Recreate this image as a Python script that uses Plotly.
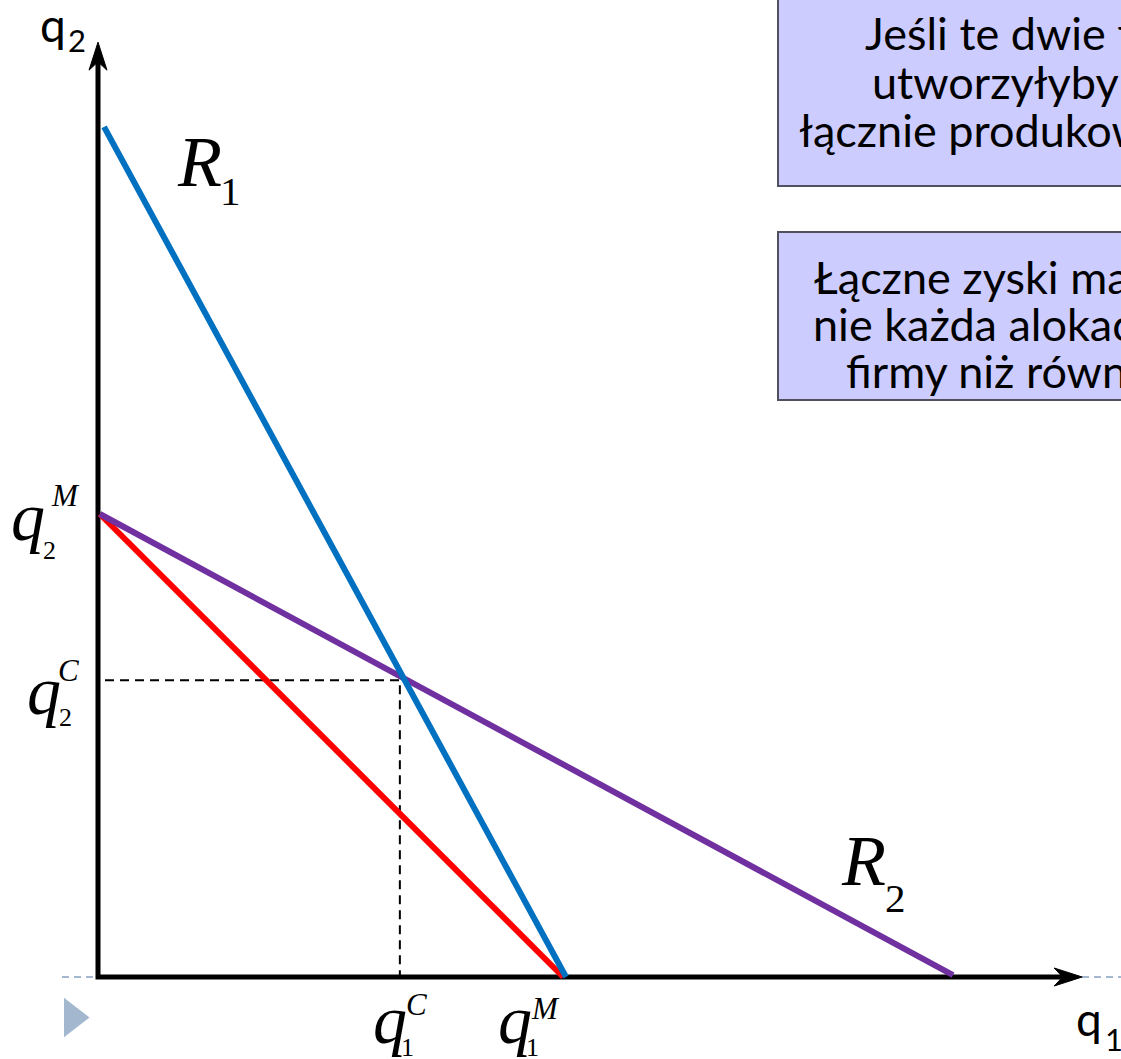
import plotly.graph_objects as go

# ---------------- data (economic units) ----------------
q1_monopoly = 10.0
q2_monopoly = 10.0
q1_cournot = 6.45
q2_cournot = 6.41
R1_q1 = [0.13, 10.0]
R1_q2 = [18.36, 0.0]
R2_q1 = [0.04, 18.27]
R2_q2 = [10.0, 0.04]
joint_q1 = [0.04, 9.94]
joint_q2 = [10.0, 0.0]
axis_q1_end = 21.03
axis_q2_end = 20.19

box1_lines = ["Jeśli te dwie firmy", "utworzyłyby kartel,", "łącznie produkowałyby"]
box2_lines = ["Łączne zyski maksymalne,", "nie każda alokacja daje", "firmy niż równowaga"]

# ---------------- canvas mapping ----------------
W, H = 1121, 1059
OX, OY = 98, 977          # pixel position of the origin
SX, SY = 46.8, 46.3       # pixels per unit
xr = [-OX / SX, (W - OX) / SX]
yr = [-(H - OY) / SY, OY / SY]


def dx(px):
    return px / SX


def dy(px):
    return px / SY


fig = go.Figure()

# light slide baseline (dashed)
fig.add_trace(go.Scatter(x=[dx(62 - OX), xr[1]], y=[0, 0], mode="lines",
                         line=dict(color="#a3b8cf", width=2, dash="7px,5px"),
                         hoverinfo="skip"))

# Cournot dashed guides
fig.add_trace(go.Scatter(x=[dx(7), q1_cournot, q1_cournot], y=[q2_cournot, q2_cournot, 0],
                         mode="lines", line=dict(color="black", width=2, dash="9px,6px"),
                         hoverinfo="skip"))

# axes
L_ar, W_ar = 28, 9
fig.add_trace(go.Scatter(x=[0, 0, axis_q1_end - dx(L_ar * 0.7)],
                         y=[axis_q2_end - dy(L_ar * 0.7), 0, 0],
                         mode="lines", line=dict(color="black", width=5),
                         hoverinfo="skip"))
# arrowheads
fig.add_trace(go.Scatter(
    x=[axis_q1_end, axis_q1_end - dx(L_ar), axis_q1_end - dx(L_ar * 0.7), axis_q1_end - dx(L_ar), axis_q1_end],
    y=[0, dy(W_ar), 0, -dy(W_ar), 0],
    mode="lines", fill="toself", fillcolor="black", line=dict(color="black", width=1),
    hoverinfo="skip"))
fig.add_trace(go.Scatter(
    x=[0, dx(W_ar), 0, -dx(W_ar), 0],
    y=[axis_q2_end, axis_q2_end - dy(L_ar), axis_q2_end - dy(L_ar * 0.7), axis_q2_end - dy(L_ar), axis_q2_end],
    mode="lines", fill="toself", fillcolor="black", line=dict(color="black", width=1),
    hoverinfo="skip"))

# curves
fig.add_trace(go.Scatter(x=joint_q1, y=joint_q2, mode="lines",
                         line=dict(color="#ff0000", width=6), hoverinfo="skip"))
fig.add_trace(go.Scatter(x=R2_q1, y=R2_q2, mode="lines",
                         line=dict(color="#7030a0", width=6), hoverinfo="skip"))
fig.add_trace(go.Scatter(x=R1_q1, y=R1_q2, mode="lines",
                         line=dict(color="#0070c0", width=6), hoverinfo="skip"))

# slide bullet
fig.add_trace(go.Scatter(x=[dx(72.5 - OX)], y=[-dy(1017.5 - OY)], mode="markers",
                         marker=dict(symbol="triangle-right", size=34, color="#a3b8cf",
                                     line=dict(width=0)),
                         hoverinfo="skip"))

annotations = []
SERIF = "Liberation Serif"
SANS = "Lato"


def label(text, left, baseline, size, family, italic=False):
    off = 0.3375 if family == SERIF else 0.387
    annotations.append(dict(
        x=left / W, y=1 - (baseline - off * size) / H, xref="paper", yref="paper",
        xanchor="left", yanchor="middle", showarrow=False, borderpad=0,
        text=f"<i>{text}</i>" if italic else text,
        font=dict(family=family, size=size, color="black")))


# boxes
shapes = [
    dict(type="rect", xref="paper", yref="paper", x0=778 / W, x1=1.3, y0=1 - 186 / H, y1=1.1,
         fillcolor="#ccccff", line=dict(color="#50505e", width=2), layer="below"),
    dict(type="rect", xref="paper", yref="paper", x0=778 / W, x1=1.3, y0=1 - 400 / H, y1=1 - 232 / H,
         fillcolor="#ccccff", line=dict(color="#50505e", width=2), layer="below"),
]
for t, lx, bl in zip(box1_lines, [864, 871, 798], [50, 99, 147]):
    label(t, lx, bl, 45, SANS)
for t, lx, bl in zip(box2_lines, [813, 812, 845], [294, 341, 388]):
    label(t, lx, bl, 45, SANS)

# axis titles (sans)
label("q", 39, 42, 46, SANS)
label("2", 67, 52, 31, SANS)
label("q", 1075, 1036, 46, SANS)
label("1", 1104, 1051, 31, SANS)

# reaction curve labels
label("R", 176, 186, 72, SERIF, italic=True)
label("1", 219, 205, 41, SERIF)
label("R", 840, 885, 72, SERIF, italic=True)
label("2", 884, 912, 41, SERIF)

# quantity labels
label("q", 10, 540, 68, SERIF, italic=True)
label("M", 50, 506, 31, SERIF, italic=True)
label("2", 42, 559, 26, SERIF)

label("q", 26, 714, 68, SERIF, italic=True)
label("C", 57, 681, 31, SERIF, italic=True)
label("2", 58, 726, 26, SERIF)

label("q", 372, 1043, 68, SERIF, italic=True)
label("C", 405, 1015, 31, SERIF, italic=True)
label("1", 400, 1056, 26, SERIF)

label("q", 497, 1043, 68, SERIF, italic=True)
label("M", 530, 1019, 31, SERIF, italic=True)
label("1", 525, 1056, 26, SERIF)

fig.update_layout(
    width=W, height=H, margin=dict(l=0, r=0, t=0, b=0),
    paper_bgcolor="white", plot_bgcolor="white", showlegend=False,
    xaxis=dict(range=xr, visible=False, fixedrange=True),
    yaxis=dict(range=yr, visible=False, fixedrange=True),
    shapes=shapes, annotations=annotations,
)

fig.write_html("out.html", config={"displayModeBar": False},
               post_script="document.body.style.margin='0px';")
